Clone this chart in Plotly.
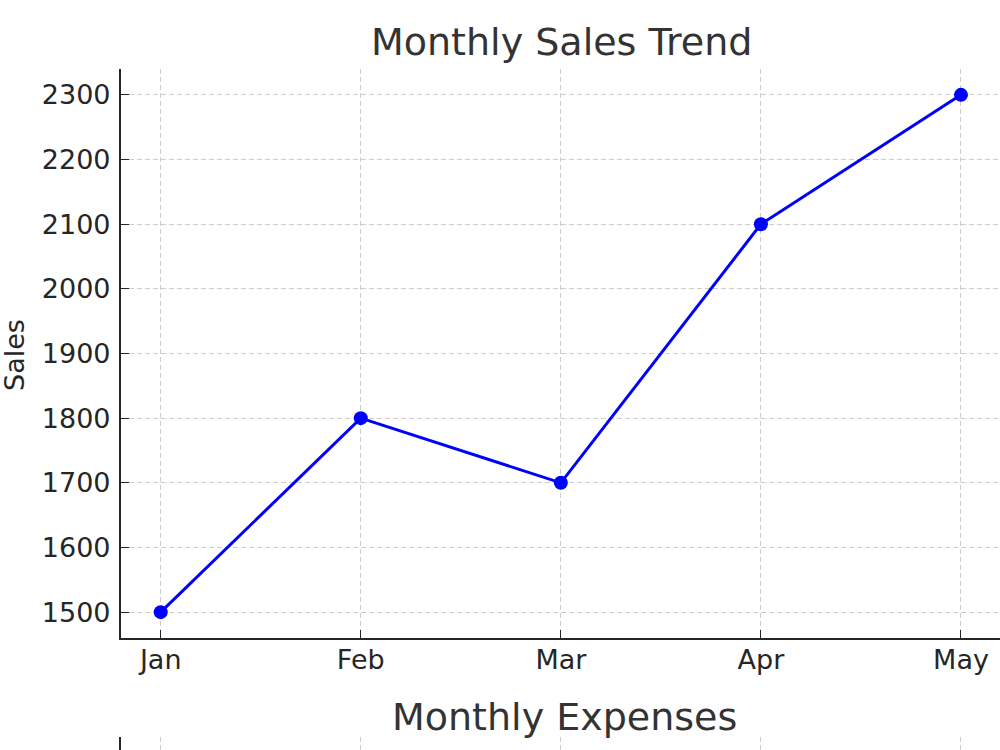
import plotly.graph_objects as go

months = ["Jan", "Feb", "Mar", "Apr", "May"]
sales = [1500, 1800, 1700, 2100, 2300]
sales_ticks = [1500, 1600, 1700, 1800, 1900, 2000, 2100, 2200, 2300]

FONT = "DejaVu Sans"
DARK = "#262626"
GRID = "#cccccc"

fig = go.Figure()
fig.add_trace(go.Scatter(
    x=months, y=sales, mode="lines+markers",
    line=dict(color="#0000ff", width=3),
    marker=dict(color="#0000ff", size=14),
    xaxis="x", yaxis="y", showlegend=False, hoverinfo="skip",
))
# second (cut-off) subplot: Monthly Expenses
fig.add_trace(go.Scatter(
    x=months, y=[None] * len(months), mode="lines",
    xaxis="x2", yaxis="y2", showlegend=False, hoverinfo="skip",
))

axis_common = dict(
    showline=True, linecolor=DARK, linewidth=1.6,
    ticks="inside", ticklen=8, tickwidth=1.4, tickcolor=DARK,
    showgrid=True, gridcolor=GRID, gridwidth=1, griddash="5px,3px",
    zeroline=False, tickfont=dict(family=FONT, size=27, color=DARK),
)

fig.update_layout(
    width=1000, height=750,
    margin=dict(l=0, r=0, t=0, b=0),
    paper_bgcolor="white", plot_bgcolor="white",
    font=dict(family=FONT),
    xaxis=dict(axis_common, domain=[0.1207, 1.0], anchor="y",
               type="category", range=[-0.2, 4.195],
               categoryorder="array", categoryarray=months,
               ticklabelstandoff=-3),
    yaxis=dict(axis_common, domain=[1 - 638 / 750, 1 - 69 / 750], anchor="x",
               range=[1460, 2340], tickvals=sales_ticks,
               ticklabelstandoff=3),
    xaxis2=dict(axis_common, domain=[0.1207, 1.0], anchor="y2",
                type="category", range=[-0.2, 4.195],
                categoryorder="array", categoryarray=months,
                showline=False, showticklabels=False, ticks=""),
    yaxis2=dict(axis_common, domain=[0, 1 - 737 / 750], anchor="x2",
                range=[0, 1], tickvals=[], showgrid=False, ticks=""),
    annotations=[
        dict(text="Monthly Sales Trend", x=561 / 1000, y=1 - 42 / 750,
             xref="paper", yref="paper", showarrow=False,
             font=dict(family=FONT, size=38, color="#333333"),
             xanchor="center", yanchor="middle"),
        dict(text="Sales", x=14 / 1000, y=1 - 355 / 750,
             xref="paper", yref="paper", showarrow=False, textangle=-90,
             font=dict(family=FONT, size=27, color=DARK),
             xanchor="center", yanchor="middle"),
        dict(text="Monthly Expenses", x=564 / 1000, y=1 - 717 / 750,
             xref="paper", yref="paper", showarrow=False,
             font=dict(family=FONT, size=38, color="#333333"),
             xanchor="center", yanchor="middle"),
    ],
)

fig.write_html("out.html")
